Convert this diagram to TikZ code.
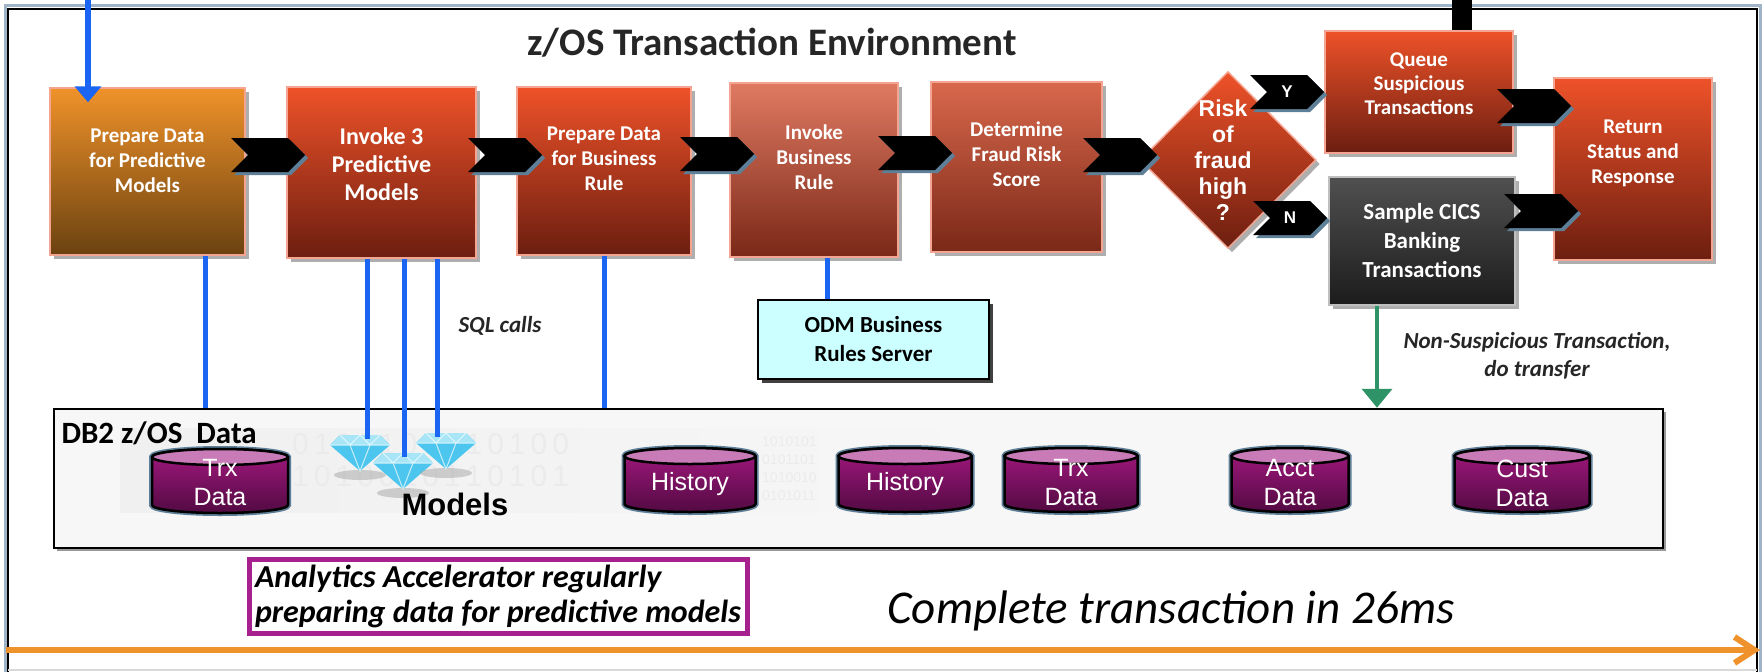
\documentclass[tikz,border=0pt]{standalone}
\usepackage{fontspec}
\setmainfont{Carlito}
\newfontfamily\arialfont{Liberation Sans}
\usetikzlibrary{shapes.geometric, shapes.symbols, shadows, arrows.meta, calc}

\definecolor{boxred}{HTML}{EE5229}
\definecolor{boxdark}{HTML}{6C1E10}
\definecolor{prepor}{HTML}{F0922A}
\definecolor{prepbrown}{HTML}{6B4210}
\definecolor{rulered}{HTML}{E07A62}
\definecolor{scorered}{HTML}{D9684C}
\definecolor{ruledark}{HTML}{7A2818}
\definecolor{rimpink}{HTML}{F3A591}
\definecolor{cicsgray}{HTML}{505050}
\definecolor{cicsdark}{HTML}{1C1C1C}
\definecolor{sqlblue}{HTML}{1A66F2}
\definecolor{xfergreen}{HTML}{2E9467}
\definecolor{chevshade}{HTML}{5E7F98}
\definecolor{cyltop}{HTML}{A3187F}
\definecolor{cylbot}{HTML}{520A42}
\definecolor{dbtop}{HTML}{C97BB8}
\definecolor{odmcyan}{HTML}{CCFFFF}
\definecolor{db2gray}{HTML}{F7F7F7}
\definecolor{accelmag}{HTML}{A6218E}
\definecolor{timeorange}{HTML}{F0922B}
\definecolor{framegray}{HTML}{9FB4C6}
\definecolor{gemblue}{HTML}{4CC6EE}
\definecolor{gemlight}{HTML}{A8E6F7}
\definecolor{titlegray}{HTML}{262626}

\begin{document}
\begin{tikzpicture}[
    x=1pt, y=-1pt,
    >={Triangle[length=16pt, width=26pt]},
    stepbox/.style={rectangle, draw=rimpink, line width=1.5pt, inner sep=0pt,
      top color=boxred, bottom color=boxdark, text=white, align=center,
      font=\bfseries\fontsize{21}{25}\selectfont,
      drop shadow={shadow xshift=4pt, shadow yshift=-4pt, fill=black!45, opacity=.7}},
    decision/.style={diamond, aspect=1, draw=rimpink, line width=1.5pt, inner sep=0pt,
      top color=boxred, bottom color=boxdark,
      drop shadow={shadow xshift=4pt, shadow yshift=-4pt, fill=black!45, opacity=.7}},
    chev/.style={signal, signal to=east, signal from=west, signal pointer angle=90,
      fill=black, minimum width=74pt, minimum height=34pt, inner sep=0pt,
      text=white, font=\arialfont\bfseries\fontsize{17}{20}\selectfont,
      drop shadow={shadow xshift=3pt, shadow yshift=-3pt, fill=chevshade, opacity=1}},
    dbtext/.style={text=white, align=center, inner sep=0pt, font=\arialfont\fontsize{25}{29}\selectfont},
    sqlline/.style={draw=sqlblue, line width=5pt},
    note/.style={text=titlegray, align=center, font=\bfseries\itshape\fontsize{23}{28}\selectfont},
    bits/.style={text=black!8, anchor=base west, inner sep=0pt, font=\arialfont\fontsize{#1}{#1}\selectfont},
    dbcyl/.pic={
      \shade[top color=cyltop, bottom color=cylbot, draw=black, line width=2.5pt,
        preaction={draw=chevshade, line width=6pt}]
        (-#1,-24) -- (-#1,24) arc[start angle=180, end angle=0, x radius=#1, y radius=8]
        -- (#1,-24) arc[start angle=360, end angle=180, x radius=#1, y radius=8] -- cycle;
      \filldraw[fill=dbtop, draw=black, line width=2.5pt] (0,-24) ellipse [x radius=#1, y radius=8];
    },
    gem/.pic={
      \fill[black!35, opacity=.5] (0,24) ellipse [x radius=26, y radius=5];
      \fill[gemblue] (-30,-6) -- (-20,-16) -- (20,-16) -- (30,-6) -- (0,20) -- cycle;
      \fill[gemlight] (-20,-16) -- (20,-16) -- (30,-6) -- (-30,-6) -- cycle;
      \draw[white, line width=1pt, opacity=.7] (-30,-6) -- (30,-6)
        (-20,-16) -- (-10,-6) -- (0,-16) -- (10,-6) -- (20,-16)
        (-10,-6) -- (0,20) -- (10,-6);
      \coordinate (-top) at (0,-12);
    }
  ]
  \useasboundingbox (0,0) rectangle (1762,672);
  \clip (0,0) rectangle (1762,672);

  % outer frame
  \draw[framegray, line width=3pt] (5,5) rectangle (1760,720);
  \draw[line width=2.5pt] (8,9) rectangle (1757,720);
  \draw[black!15, line width=2pt] (8,670) -- (1757,670);

  \node[font=\bfseries\fontsize{39}{46}\selectfont, text=titlegray, anchor=base] (title) at (772,55) {z/OS Transaction Environment};

  % DB2 data store
  \node[draw=black, line width=2.5pt, fill=db2gray, minimum width=1609pt, minimum height=139pt,
    drop shadow={shadow xshift=3pt, shadow yshift=-3pt, fill=black!50, opacity=.8}] (db2) at (858.5,478.5) {};
  \begin{scope}
    \clip (120,428) rectangle (1000,512);
    \shade[left color=black!6, right color=db2gray] (120,428) rectangle (1000,512);
    \node[bits=30] (bitsa) at (292,454) {0\,1\,0\,1\,1\,0\,1\,0\,1\,0\,1\,0\,0};
    \node[bits=30] (bitsb) at (292,486) {1\,0\,1\,0\,0\,1\,0\,1\,1\,0\,1\,0\,1};
    \node[bits=14] (bitsc) at (762,446) {1010101};
    \node[bits=14] (bitsd) at (762,464) {0101101};
    \node[bits=14] (bitse) at (762,482) {1010010};
    \node[bits=14] (bitsf) at (762,500) {0101011};
  \end{scope}
  \node[font=\bfseries\fontsize{31}{36}\selectfont, anchor=base west] (db2label) at (58,443) {DB2 z/OS\ \ Data};

  \pic at (220,481) {dbcyl=68};
  \node[dbtext] (trxa) at (220,483) {Trx\\Data};
  \pic at (690,480) {dbcyl=65.5};
  \node[dbtext] (hista) at (690,484) {History};
  \pic at (905,480) {dbcyl=66.5};
  \node[dbtext] (histb) at (905,484) {History};
  \pic at (1071,480) {dbcyl=66.5};
  \node[dbtext] (trxb) at (1071,483) {Trx\\Data};
  \pic at (1290,480) {dbcyl=58.5};
  \node[dbtext] (acct) at (1290,483) {Acct\\Data};
  \pic at (1522,480) {dbcyl=67.5};
  \node[dbtext] (cust) at (1522,483) {Cust\\Data};

  \pic (gema) at (360,451) {gem};
  \pic (gemb) at (403,469) {gem};
  \pic (gemc) at (446,449) {gem};
  \node[font=\arialfont\bfseries\fontsize{31}{36}\selectfont, anchor=base west] (modelslabel) at (398,515) {Models};

  % transaction steps
  \node[stepbox, top color=prepor, bottom color=prepbrown, minimum width=195pt, minimum height=167pt,
    text depth=21.7pt] (prepmodel) at (147.5,171.5) {Prepare Data\\for Predictive\\Models};
  \node[stepbox, minimum width=189pt, minimum height=171pt, font=\bfseries\fontsize{24}{28}\selectfont,
    text depth=17.8pt] (invoke) at (381.5,172.5) {Invoke 3\\Predictive\\Models};
  \node[stepbox, minimum width=174pt, minimum height=168pt,
    text depth=24.7pt] (preprule) at (604,171) {Prepare Data\\for Business\\Rule};
  \node[stepbox, top color=rulered, bottom color=ruledark, minimum width=168pt, minimum height=174pt,
    text depth=26.7pt] (callrule) at (814,170) {Invoke\\Business\\Rule};
  \node[stepbox, top color=scorered, bottom color=ruledark, minimum width=171pt, minimum height=170pt,
    text depth=26.7pt] (score) at (1016.5,167) {Determine\\Fraud Risk\\Score};

  \node[decision, minimum width=176pt, minimum height=177pt] (risky) at (1228,160) {};
  \node[text=white, align=center, font=\arialfont\bfseries\fontsize{23}{26}\selectfont] (riskytext) at (1223,160.5) {Risk\\of\\fraud\\high\\?};

  \node[stepbox, minimum width=188pt, minimum height=122pt, font=\bfseries\fontsize{21}{24}\selectfont,
    text depth=16.7pt] (queue) at (1419,92) {Queue\\Suspicious\\Transactions};
  \node[stepbox, top color=cicsgray, bottom color=cicsdark, draw=black!25, minimum width=186pt, minimum height=128pt,
    font=\bfseries\fontsize{23}{29}\selectfont, text depth=2pt] (cics) at (1422,241) {Sample CICS\\Banking\\Transactions};
  \node[stepbox, minimum width=158pt, minimum height=182pt,
    text depth=34.7pt] (reply) at (1633,169) {Return\\Status and\\Response};

  % chevrons between steps
  \node[chev] (stepa) at (268,155) {};
  \node[chev] (stepb) at (505,155) {};
  \node[chev] (stepc) at (717,154) {};
  \node[chev] (stepd) at (915,153) {};
  \node[chev] (stepe) at (1120,155) {};
  \node[chev] (yes) at (1287,92) {Y};
  \node[chev] (no) at (1290,218) {N};
  \node[chev] (stepf) at (1534,106) {};
  \node[chev] (stepg) at (1541,211) {};

  \node[draw=black, line width=2.5pt, fill=odmcyan, minimum width=231pt, minimum height=79pt, align=center,
    font=\bfseries\fontsize{23}{29}\selectfont,
    drop shadow={shadow xshift=4pt, shadow yshift=-4pt, fill=black!75, opacity=1}] (odm) at (873.5,339.5) {ODM Business\\Rules Server};

  % SQL calls into DB2
  \draw[sqlline] (205,0 |- prepmodel.south) -- (205,0 |- db2.north);
  \draw[sqlline] (367,0 |- invoke.south) -- (367,0 |- gema-top);
  \draw[sqlline] (404,0 |- invoke.south) -- (404,0 |- gemb-top);
  \draw[sqlline] (437,0 |- invoke.south) -- (437,0 |- gemc-top);
  \draw[sqlline] (preprule.south) -- (preprule.south |- db2.north);
  \draw[sqlline] (827,0 |- callrule.south) -- (827,0 |- odm.north);
  \node[note] (sqlnote) at (500,326) {SQL calls};

  % incoming request and outgoing alert
  \coordinate (feed) at (88,0);
  \draw[->, sqlblue, line width=6pt, shorten >=-15pt] (feed) -- (feed |- prepmodel.north);
  \coordinate (alert) at (1462,0);
  \draw[line width=20pt] (alert) -- (alert |- queue.north);

  % transfer
  \draw[->, xfergreen, line width=4pt, >={Triangle[length=19pt, width=30pt]}] (1377,0 |- cics.south) -- (1377,0 |- db2.north);
  \node[note] (xfernote) at (1537,356) {Non-Suspicious Transaction,\\do transfer};

  \node[draw=accelmag, line width=5pt, minimum width=498pt, minimum height=74pt, inner sep=4pt, align=left,
    font=\bfseries\itshape\fontsize{32}{35}\selectfont] (accel) at (498,596) {Analytics Accelerator regularly\\preparing data for predictive models};
  \node[font=\itshape\fontsize{47}{56}\selectfont, anchor=base] (timing) at (1171,623) {Complete transaction in 26ms};

  % timeline
  \coordinate (tstart) at (6,650);
  \coordinate (tend) at (1760,650);
  \draw[timeorange, line width=6pt, -{Straight Barb[length=20pt, width=26pt]}] (tstart) -- (tend);

\end{tikzpicture}
\end{document}
